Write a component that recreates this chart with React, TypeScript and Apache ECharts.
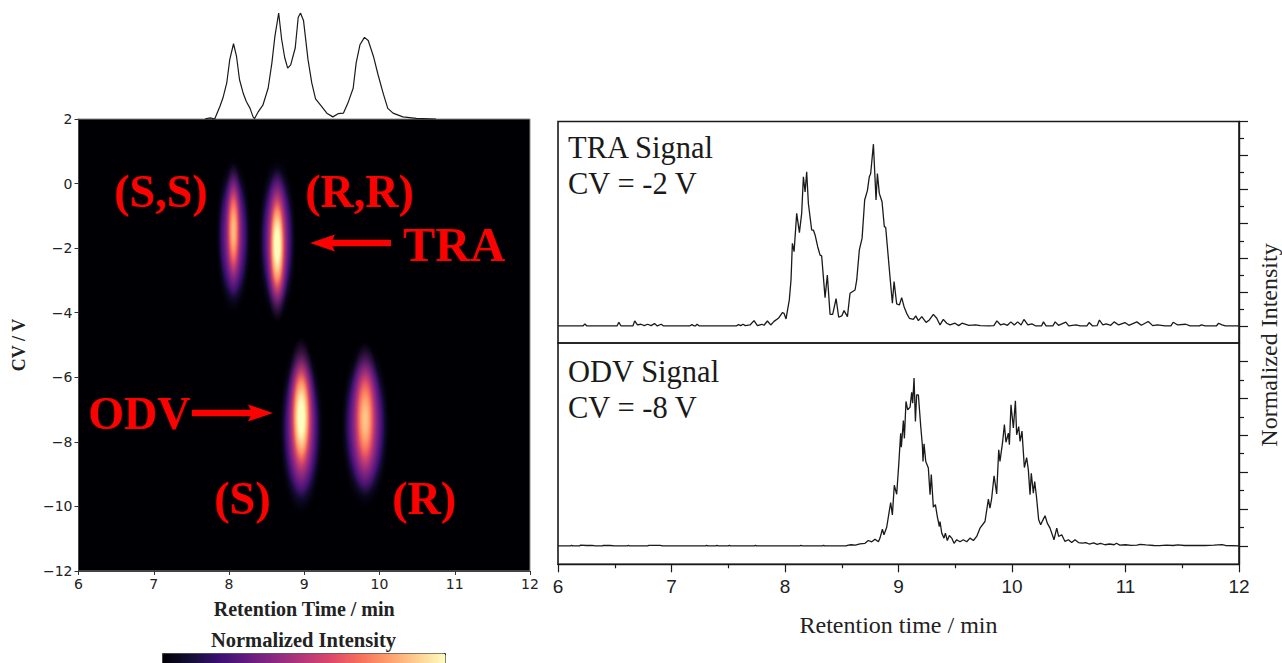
import React, { useEffect, useRef } from "react";
import * as echarts from "echarts";

// Magma colour scale, low to high
const magma = ["#000004", "#140e36", "#3b0f70", "#641a80", "#8c2981", "#b73779", "#de4968", "#f7705c", "#fe9f6d", "#fecf92", "#fcfdbf"];

// The spots of the 2D map, each a wide halo and a narrow core:
// retention time, CV, half widths, peak intensity and the intensity it sits on
const spotTime = [8.06, 8.64, 8.96, 9.81, 8.06, 8.64, 8.96, 9.81];
const spotCV = [-1.62, -1.75, -7.57, -7.48, -1.45, -1.9, -7.25, -7.3];
const spotHalfTime = [0.24, 0.26, 0.3, 0.33, 0.13, 0.16, 0.2, 0.21];
const spotHalfCV = [2.45, 2.6, 2.75, 2.6, 2.1, 2.4, 2.5, 2.4];
const spotPeak = [0.42, 0.45, 0.47, 0.47, 0.86, 1.05, 1.05, 0.88];
const spotBase = [0, 0, 0, 0, 0.28, 0.28, 0.28, 0.28];

// Projection above the 2D map
const topTrace: number[][] = [
  [7.68, 0], [7.75, 0.01], [7.81, 0], [7.88, 0.12], [7.92, 0.2], [7.97, 0.34], [8.01, 0.56], [8.06, 0.71], [8.1, 0.59], [8.14, 0.37], [8.19, 0.24], [8.23, 0.165], [8.28, 0.1], [8.32, 0.02], [8.34, 0.005], [8.39, 0.07], [8.45, 0.13], [8.52, 0.29], [8.57, 0.53], [8.61, 0.78], [8.66, 1], [8.7, 0.75], [8.74, 0.58], [8.78, 0.48], [8.82, 0.51], [8.88, 0.67], [8.92, 0.96], [8.95, 1], [8.99, 0.93], [9.05, 0.56], [9.1, 0.34], [9.15, 0.19], [9.23, 0.12], [9.3, 0.055], [9.38, 0.02], [9.45, 0.05], [9.52, 0.055], [9.58, 0.15], [9.65, 0.29], [9.69, 0.53], [9.74, 0.7], [9.8, 0.77], [9.85, 0.74], [9.92, 0.59], [9.98, 0.42], [10.05, 0.24], [10.11, 0.1], [10.18, 0.055], [10.31, 0.02], [10.49, 0.006], [10.75, 0],
];

// TRA signal at CV = -2 V
const traTrace: number[][] = [
  [6, 0], [6.22, 0], [6.237, 0.012], [6.255, 0], [6.52, 0], [6.536, 0.022], [6.555, 0], [6.66, 0], [6.676, 0.03], [6.7, 0.006], [6.73, 0.01], [6.76, 0.002], [6.79, 0.01], [6.82, 0.002], [6.85, 0.014], [6.875, 0], [6.91, 0.01], [6.93, 0], [7.16, 0], [7.18, 0.008], [7.2, 0], [7.21, 0], [7.225, 0.01], [7.245, 0], [7.57, 0], [7.59, 0.008], [7.61, 0.002], [7.63, 0.01], [7.65, 0.002], [7.692, 0.006], [7.727, 0.031], [7.757, 0.002], [7.795, 0.01], [7.815, 0.004], [7.845, 0.029], [7.874, 0.006], [7.903, 0.027], [7.942, 0.045], [7.977, 0.078], [7.992, 0.074], [8.009, 0.041], [8.038, 0.153], [8.053, 0.27], [8.065, 0.485], [8.08, 0.436], [8.103, 0.661], [8.127, 0.548], [8.147, 0.661], [8.162, 0.876], [8.177, 0.786], [8.191, 0.905], [8.206, 0.719], [8.235, 0.563], [8.25, 0.563], [8.265, 0.534], [8.288, 0.465], [8.309, 0.416], [8.323, 0.411], [8.353, 0.166], [8.373, 0.299], [8.397, 0.068], [8.42, 0.068], [8.45, 0.161], [8.473, 0.051], [8.5, 0.059], [8.52, 0.09], [8.55, 0.055], [8.573, 0.192], [8.617, 0.211], [8.632, 0.27], [8.655, 0.446], [8.679, 0.514], [8.702, 0.739], [8.726, 0.794], [8.743, 0.876], [8.755, 0.895], [8.779, 1.067], [8.802, 0.739], [8.814, 0.895], [8.831, 0.778], [8.855, 0.729], [8.875, 0.583], [8.887, 0.579], [8.925, 0.289], [8.946, 0.133], [8.961, 0.26], [8.984, 0.129], [9.008, 0.123], [9.028, 0.166], [9.049, 0.113], [9.072, 0.074], [9.096, 0.045], [9.131, 0.039], [9.152, 0.059], [9.175, 0.031], [9.205, 0.055], [9.243, 0.021], [9.272, 0.035], [9.307, 0.068], [9.337, 0.045], [9.366, 0.006], [9.395, 0.039], [9.425, 0.016], [9.454, 0.006], [9.498, 0.016], [9.53, 0.002], [9.56, 0.016], [9.62, 0.004], [9.68, 0.006], [9.72, 0.002], [9.8, 0], [9.84, 0.002], [9.867, 0.03], [9.9, 0.006], [9.929, 0.012], [9.96, 0.004], [9.99, 0.024], [10.02, 0.006], [10.05, 0.024], [10.08, 0.006], [10.105, 0.038], [10.14, 0.006], [10.175, 0.012], [10.21, 0], [10.26, 0], [10.277, 0.024], [10.3, 0], [10.36, 0], [10.38, 0.024], [10.41, 0.004], [10.474, 0.022], [10.5, 0], [10.565, 0.006], [10.6, 0], [10.66, 0], [10.68, 0.02], [10.71, 0], [10.75, 0.002], [10.77, 0.035], [10.8, 0.006], [10.83, 0.012], [10.87, 0.004], [10.9, 0.024], [10.94, 0.006], [10.995, 0.02], [11.03, 0.004], [11.1, 0.024], [11.14, 0.004], [11.2, 0.026], [11.24, 0.002], [11.28, 0.006], [11.35, 0], [11.4, 0], [11.42, 0.022], [11.46, 0.006], [11.53, 0.01], [11.57, 0], [11.65, 0], [11.67, 0.006], [11.7, 0], [11.8, 0], [11.82, 0.016], [11.85, 0.006], [11.88, 0], [12, 0],
];

// ODV signal at CV = -8 V
const odvTrace: number[][] = [
  [6, 0], [6.11, 0], [6.12, 0.003], [6.13, 0], [6.19, 0], [6.2, 0.004], [6.25, 0.002], [6.3, 0.003], [6.33, 0], [6.39, 0], [6.4, 0.003], [6.46, 0.002], [6.5, 0], [6.61, 0], [6.62, 0.002], [6.63, 0], [6.79, 0], [6.8, 0.003], [6.86, 0.003], [6.9, 0.003], [6.92, 0], [7.3, 0], [7.31, 0.003], [7.32, 0], [7.39, 0], [7.4, 0.002], [7.41, 0], [7.5, 0], [7.51, 0.003], [7.52, 0], [7.73, 0], [7.74, 0.003], [7.75, 0], [8.13, 0], [8.14, 0.002], [8.15, 0], [8.33, 0], [8.34, 0.003], [8.35, 0], [8.54, 0], [8.55, 0.003], [8.58, 0.006], [8.62, 0.004], [8.661, 0.011], [8.705, 0.014], [8.734, 0.029], [8.764, 0.022], [8.793, 0.036], [8.823, 0.022], [8.837, 0.042], [8.858, 0.09], [8.872, 0.06], [8.896, 0.101], [8.911, 0.159], [8.931, 0.235], [8.946, 0.168], [8.963, 0.329], [8.984, 0.28], [9.002, 0.439], [9.019, 0.611], [9.025, 0.535], [9.043, 0.68], [9.052, 0.583], [9.066, 0.783], [9.081, 0.738], [9.102, 0.752], [9.116, 0.832], [9.125, 0.774], [9.137, 0.91], [9.149, 0.675], [9.16, 0.819], [9.175, 0.819], [9.196, 0.647], [9.21, 0.548], [9.216, 0.458], [9.225, 0.554], [9.24, 0.458], [9.263, 0.422], [9.278, 0.278], [9.289, 0.387], [9.307, 0.21], [9.325, 0.224], [9.342, 0.159], [9.36, 0.105], [9.366, 0.132], [9.381, 0.069], [9.401, 0.042], [9.413, 0.069], [9.43, 0.029], [9.448, 0.056], [9.469, 0.042], [9.489, 0.014], [9.513, 0.033], [9.542, 0.022], [9.571, 0.033], [9.601, 0.022], [9.63, 0.042], [9.66, 0.029], [9.689, 0.051], [9.718, 0.096], [9.762, 0.132], [9.792, 0.253], [9.806, 0.204], [9.821, 0.258], [9.842, 0.38], [9.865, 0.282], [9.883, 0.521], [9.894, 0.458], [9.918, 0.567], [9.933, 0.658], [9.947, 0.562], [9.968, 0.611], [9.977, 0.548], [9.991, 0.765], [10.012, 0.639], [10.03, 0.787], [10.041, 0.602], [10.059, 0.647], [10.071, 0.566], [10.088, 0.622], [10.109, 0.425], [10.129, 0.479], [10.144, 0.412], [10.159, 0.278], [10.17, 0.394], [10.188, 0.286], [10.2, 0.349], [10.217, 0.258], [10.235, 0.141], [10.253, 0.114], [10.27, 0.137], [10.291, 0.163], [10.311, 0.123], [10.335, 0.096], [10.37, 0.033], [10.394, 0.096], [10.411, 0.051], [10.438, 0.06], [10.467, 0.024], [10.497, 0.033], [10.526, 0.018], [10.555, 0.033], [10.585, 0.018], [10.62, 0.015], [10.65, 0.018], [10.68, 0.01], [10.72, 0.016], [10.75, 0.008], [10.78, 0.014], [10.82, 0.006], [10.86, 0.01], [10.9, 0.006], [10.92, 0.014], [10.95, 0.004], [11, 0.006], [11.05, 0.003], [11.1, 0.004], [11.13, 0.008], [11.18, 0.005], [11.25, 0.002], [11.3, 0.001], [11.36, 0.004], [11.42, 0.002], [11.46, 0.005], [11.52, 0.002], [11.6, 0.003], [11.7, 0.002], [11.78, 0.004], [11.85, 0.007], [11.88, 0.002], [12, 0],
];

const traMajorTicks = [0, 0.2, 0.4, 0.6, 0.8, 1.0, 1.2];
const traMinorTicks = [0.1, 0.3, 0.5, 0.7, 0.9, 1.1];
const odvMajorTicks = [0, 0.2, 0.4, 0.6, 0.8, 1.0];
const odvMinorTicks = [0.1, 0.3, 0.5, 0.7, 0.9];

const SERIF = "Liberation Serif";
const SANS = "Liberation Sans";
const MPL = "DejaVu Sans";
const RED = "#fd0000";
const INK = "#1a1a1a";

const scaleColor = (t: number, alpha: number) => {
  const p = Math.max(0, Math.min(1, t)) * (magma.length - 1);
  const i = Math.min(magma.length - 2, Math.floor(p));
  const f = p - i;
  const a = echarts.color.parse(magma[i]);
  const b = echarts.color.parse(magma[i + 1]);
  return `rgba(${Math.round(a[0] + (b[0] - a[0]) * f)},${Math.round(a[1] + (b[1] - a[1]) * f)},${Math.round(a[2] + (b[2] - a[2]) * f)},${alpha.toFixed(3)})`;
};

// Colour stops of a spot's gradient, from its centre to its rim
const spotStops = (peak: number, base: number) => {
  const stops: { offset: number; color: string }[] = [];
  const halo = base === 0;
  const spread = halo ? 0.72 : 0.62;
  const power = halo ? 3 : 2.2;
  for (let i = 0; i <= 24; i++) {
    const r = i / 24;
    const t = base + (peak - base) * Math.exp(-Math.pow(r / spread, power));
    stops.push({ offset: r, color: scaleColor(t, Math.min(1, (1 - r) / (halo ? 0.3 : 0.55))) });
  }
  return stops;
};

const redLabel = (text: string, x: number, y: number, size = 46) => ({
  type: "text" as const,
  x,
  y,
  z: 20,
  style: { text, fill: RED, font: `bold ${size}px "${SERIF}"`, textVerticalAlign: "middle", textAlign: "left" },
});

const blackLabel = (text: string, x: number, y: number) => ({
  type: "text" as const,
  x,
  y,
  z: 20,
  style: { text, fill: INK, font: `30.5px "${SERIF}"`, textVerticalAlign: "middle", textAlign: "left" },
});

export default function App() {
  const ref = useRef<HTMLDivElement>(null);
  useEffect(() => {
    if (!ref.current) return;
    const chart = echarts.init(ref.current, undefined, { renderer: "svg" });
    const hiddenAxis = { show: false };
    chart.setOption({
      animation: false,
      backgroundColor: "#ffffff",
      grid: [
        { left: 78.5, top: 119, width: 451.5, height: 452, show: true, backgroundColor: "#000004", borderColor: "#8a8a8a", borderWidth: 1 },
        { left: 78.5, top: 13, width: 451.5, height: 106 },
        { left: 558, top: 121.5, width: 681, height: 221.5, show: true, backgroundColor: "transparent", borderColor: INK, borderWidth: 1.6 },
        { left: 558, top: 343, width: 681, height: 221.3, show: true, backgroundColor: "transparent", borderColor: INK, borderWidth: 1.6 },
      ],
      xAxis: [
        {
          type: "value", gridIndex: 0, min: 6, max: 12, interval: 1, splitLine: { show: false },
          axisLine: { onZero: false, lineStyle: { color: "#444" } }, axisTick: { length: 4, lineStyle: { color: "#333" } },
          axisLabel: { color: "#222", fontFamily: MPL, fontSize: 14, margin: 6 },
          name: "Retention Time / min", nameLocation: "middle", nameGap: 28,
          nameTextStyle: { fontFamily: SERIF, fontWeight: "bold", fontSize: 20, color: "#222" },
        },
        { type: "value", gridIndex: 1, min: 6, max: 12, ...hiddenAxis },
        { type: "value", gridIndex: 2, min: 6, max: 12, interval: 1, ...hiddenAxis },
        {
          type: "value", gridIndex: 3, min: 6, max: 12, interval: 1, splitLine: { show: false },
          axisLine: { onZero: false, lineStyle: { color: INK, width: 1.4 } }, axisTick: { length: 8, lineStyle: { color: INK, width: 1.2 } },
          minorTick: { show: true, splitNumber: 2, length: 4, lineStyle: { color: INK, width: 1.2 } },
          axisLabel: { color: "#222", fontFamily: SANS, fontSize: 19, margin: 13 },
          name: "Retention time / min", nameLocation: "middle", nameGap: 49,
          nameTextStyle: { fontFamily: SERIF, fontSize: 24, color: "#222" },
        },
      ],
      yAxis: [
        {
          type: "value", gridIndex: 0, min: -12, max: 2, interval: 2, splitLine: { show: false },
          axisLine: { onZero: false, lineStyle: { color: "#444" } }, axisTick: { length: 4, lineStyle: { color: "#333" } },
          axisLabel: { color: "#222", fontFamily: MPL, fontSize: 14, margin: 6, formatter: (v: number) => String(v).replace("-", "\u2212") },
          name: "CV / V", nameLocation: "middle", nameGap: 51, nameRotate: 90,
          nameTextStyle: { fontFamily: SERIF, fontWeight: "bold", fontSize: 18, color: "#222" },
        },
        { type: "value", gridIndex: 1, min: 0, max: 1, ...hiddenAxis },
        {
          type: "value", gridIndex: 2, min: -0.1, max: 1.2, position: "right", splitLine: { show: false },
          axisLine: { show: true, onZero: false, lineStyle: { color: INK, width: 1.4 } }, axisLabel: { show: false },
          axisTick: { show: true, length: 9, customValues: traMajorTicks, lineStyle: { color: INK, width: 1.2 } },
        },
        {
          type: "value", gridIndex: 2, min: -0.1, max: 1.2, position: "right", splitLine: { show: false },
          axisLine: { show: false, onZero: false }, axisLabel: { show: false },
          axisTick: { show: true, length: 5, customValues: traMinorTicks, lineStyle: { color: INK, width: 1.2 } },
        },
        {
          type: "value", gridIndex: 3, min: -0.1, max: 1.1, position: "right", splitLine: { show: false },
          axisLine: { show: true, onZero: false, lineStyle: { color: INK, width: 1.4 } }, axisLabel: { show: false },
          axisTick: { show: true, length: 9, customValues: odvMajorTicks, lineStyle: { color: INK, width: 1.2 } },
        },
        {
          type: "value", gridIndex: 3, min: -0.1, max: 1.1, position: "right", splitLine: { show: false },
          axisLine: { show: false, onZero: false }, axisLabel: { show: false },
          axisTick: { show: true, length: 5, customValues: odvMinorTicks, lineStyle: { color: INK, width: 1.2 } },
        },
      ],
      visualMap: {
        type: "continuous", min: 0, max: 1, seriesIndex: 0, dimension: 4, orient: "horizontal",
        left: 162, top: 653, itemHeight: 283, itemWidth: 16, padding: 0, showLabel: false, calculable: false,
        text: ["", ""], inRange: { color: magma }, borderColor: "#333", borderWidth: 1, hoverLink: false,
      },
      series: [
        {
          type: "custom", name: "Spots", coordinateSystem: "cartesian2d", xAxisIndex: 0, yAxisIndex: 0, silent: true, z: 2,
          data: spotTime.map((t, i) => [t, spotCV[i], spotHalfTime[i], spotHalfCV[i], spotPeak[i], spotBase[i]]),
          renderItem: (_p: any, api: any) => {
            const c = api.coord([api.value(0), api.value(1)]);
            const s = api.size([api.value(2), api.value(3)]);
            return {
              type: "ellipse",
              shape: { cx: c[0], cy: c[1], rx: s[0], ry: s[1] },
              style: { fill: new echarts.graphic.RadialGradient(0.5, 0.5, 0.5, spotStops(api.value(4), api.value(5))) },
            };
          },
        },
        { type: "line", name: "Projection", xAxisIndex: 1, yAxisIndex: 1, data: topTrace, symbol: "none", lineStyle: { color: INK, width: 1.2 } },
        { type: "line", name: "TRA Signal", xAxisIndex: 2, yAxisIndex: 2, data: traTrace, symbol: "none", lineStyle: { color: INK, width: 1.3 } },
        { type: "line", name: "ODV Signal", xAxisIndex: 3, yAxisIndex: 4, data: odvTrace, symbol: "none", lineStyle: { color: INK, width: 1.3 } },
      ],
      graphic: [
        redLabel("(S,S)", 114, 191),
        redLabel("(R,R)", 305, 191),
        redLabel("TRA", 403, 244, 48.5),
        redLabel("ODV", 88, 413),
        redLabel("(S)", 214, 498),
        redLabel("(R)", 392, 498),
        { type: "line", z: 20, shape: { x1: 391, y1: 243, x2: 325, y2: 243 }, style: { stroke: RED, lineWidth: 6.5 } },
        { type: "polygon", z: 20, shape: { points: [[310, 243], [335, 234.5], [331, 243], [335, 251.5]] }, style: { fill: RED } },
        { type: "line", z: 20, shape: { x1: 192, y1: 413, x2: 258, y2: 413 }, style: { stroke: RED, lineWidth: 6.5 } },
        { type: "polygon", z: 20, shape: { points: [[273, 413], [248, 404.5], [252, 413], [248, 421.5]] }, style: { fill: RED } },
        blackLabel("TRA Signal", 568, 148),
        blackLabel("CV = -2 V", 568, 184),
        blackLabel("ODV Signal", 568, 372),
        blackLabel("CV = -8 V", 568, 408),
        {
          type: "text", x: 303.5, y: 640, z: 20,
          style: { text: "Normalized Intensity", fill: "#222", font: `bold 20.5px "${SERIF}"`, textAlign: "center", textVerticalAlign: "middle" },
        },
        {
          type: "text", x: 1269, y: 345, rotation: Math.PI / 2, z: 20,
          style: { text: "Normalized Intensity", fill: "#222", font: `24px "${SERIF}"`, textAlign: "center", textVerticalAlign: "middle" },
        },
      ],
    });
    return () => chart.dispose();
  }, []);
  return <div ref={ref} style={{ position: "fixed", left: 0, top: 0, width: 1282, height: 663 }} />;
}
